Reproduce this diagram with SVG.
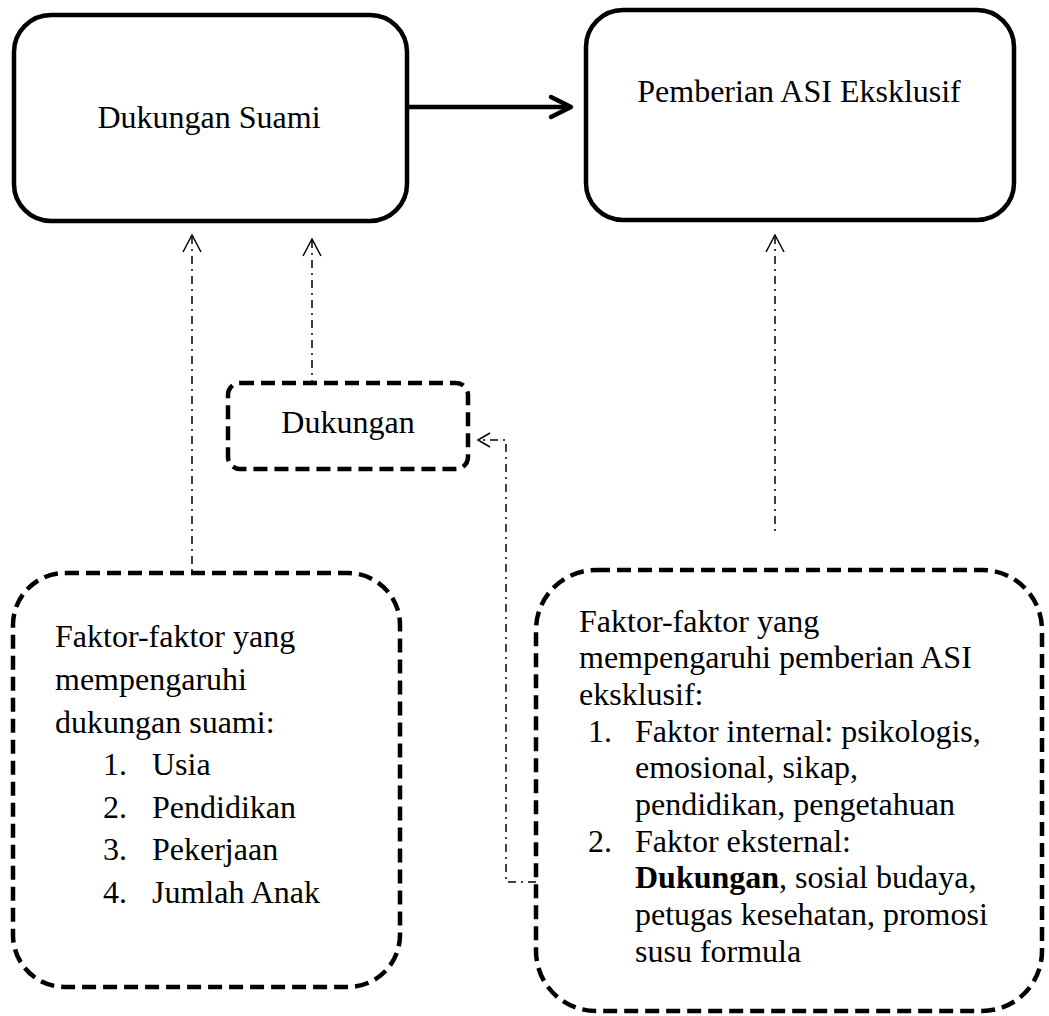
<svg xmlns="http://www.w3.org/2000/svg" width="1049" height="1016" viewBox="0 0 1049 1016">
<style>
.solid{fill:#fff;stroke:#000;stroke-width:4.5}
.dashed{fill:#fff;stroke:#000;stroke-width:4.5;stroke-dasharray:14 7}
.dd{fill:none;stroke:#000;stroke-width:1.5;stroke-dasharray:8 5 2 5}
.head{fill:none;stroke:#000;stroke-width:1.5}
.t{font-family:"Liberation Serif","Times New Roman",serif;font-size:32px;fill:#000}
</style>
<rect width="1049" height="1016" fill="#fff"/>
<g id="connectors">
<line x1="407" y1="107" x2="569" y2="107" stroke="#000" stroke-width="4.5"/>
<polyline points="551,97 571,107 551,117" fill="none" stroke="#000" stroke-width="4.5" stroke-linecap="round" stroke-linejoin="round"/>
<line class="dd" x1="192" y1="236" x2="192" y2="573"/>
<polyline class="head" points="183,252 192,235 201,252"/>
<line class="dd" x1="312" y1="240" x2="312" y2="383"/>
<polyline class="head" points="303,256 312,239 321,256"/>
<line class="dd" x1="775" y1="236" x2="775" y2="535"/>
<polyline class="head" points="766,252 775,235 784,252"/>
<polyline class="dd" points="536,882 506,882 506,440 480,440"/>
<polyline class="head" points="490,433 478,440 490,447"/>
</g>
<g id="dukungan-suami">
<rect class="solid" x="14" y="15" width="393" height="206" rx="37"/>
<text class="t" x="209" y="128" text-anchor="middle">Dukungan Suami</text>
</g>
<g id="pemberian-asi">
<rect class="solid" x="586" y="10" width="428" height="210" rx="37"/>
<text class="t" x="799" y="102" text-anchor="middle">Pemberian ASI Eksklusif</text>
</g>
<g id="dukungan">
<rect class="dashed" x="228" y="383" width="240" height="86" rx="12"/>
<text class="t" x="348" y="433" text-anchor="middle">Dukungan</text>
</g>
<g id="faktor-suami">
<rect class="dashed" x="13" y="573" width="387" height="414" rx="52"/>
<text class="t" x="55" y="647">Faktor-faktor yang</text>
<text class="t" x="55" y="690">mempengaruhi</text>
<text class="t" x="55" y="733">dukungan suami:</text>
<text class="t" x="103" y="775">1.</text><text class="t" x="152" y="775">Usia</text>
<text class="t" x="103" y="818">2.</text><text class="t" x="152" y="818">Pendidikan</text>
<text class="t" x="103" y="860">3.</text><text class="t" x="152" y="860">Pekerjaan</text>
<text class="t" x="103" y="903">4.</text><text class="t" x="152" y="903">Jumlah Anak</text>
</g>
<g id="faktor-asi">
<rect class="dashed" x="536" y="570" width="506" height="441" rx="60"/>
<text class="t" x="579" y="632">Faktor-faktor yang</text>
<text class="t" x="579" y="668">mempengaruhi pemberian ASI</text>
<text class="t" x="579" y="705">eksklusif:</text>
<text class="t" x="588" y="742">1.</text><text class="t" x="635" y="742">Faktor internal: psikologis,</text>
<text class="t" x="635" y="778">emosional, sikap,</text>
<text class="t" x="635" y="815">pendidikan, pengetahuan</text>
<text class="t" x="588" y="852">2.</text><text class="t" x="635" y="852">Faktor eksternal:</text>
<text class="t" x="635" y="888"><tspan font-weight="bold">Dukungan</tspan>, sosial budaya,</text>
<text class="t" x="635" y="925">petugas kesehatan, promosi</text>
<text class="t" x="635" y="962">susu formula</text>
</g>
</svg>
